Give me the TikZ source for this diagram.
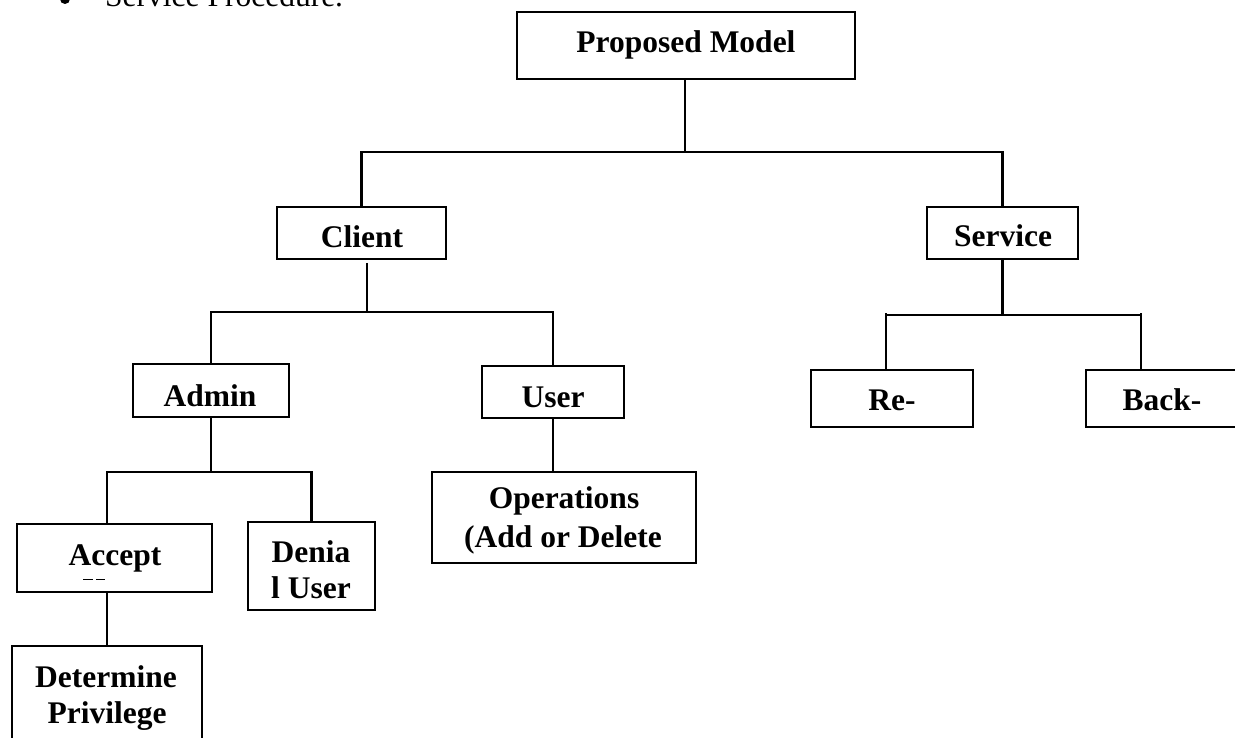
\documentclass[tikz,border=0pt]{standalone}
\usepackage{fontspec}
\setmainfont{Liberation Serif}
\begin{document}
\begin{tikzpicture}[x=1pt,y=-1pt,
  box/.style={draw, line width=2.6pt, inner sep=0pt},
  lbl/.style={anchor=base, font=\bfseries\fontsize{31.5}{36}\selectfont, inner sep=0pt},
  conn/.style={line width=2.6pt}]
\useasboundingbox (0,0) rectangle (1235,738);
\clip (0,0) rectangle (1235,738);

% heading text (clipped at the top)
\node[circle, fill, minimum size=10pt, inner sep=0pt] (bullet) at (65,-1) {};
\node[anchor=base west, font=\fontsize{31.5}{36}\selectfont, inner sep=0pt] (sp) at (105,7) {Service Procedure.};

% boxes
\node[box, minimum width=338pt, minimum height=67pt] (pm) at (686,45.5) {};
\node[box, minimum width=169pt, minimum height=52pt] (client) at (361.5,233) {};
\node[box, minimum width=151pt, minimum height=52pt] (service) at (1002.5,233) {};
\node[box, minimum width=156pt, minimum height=53pt] (admin) at (211,390.5) {};
\node[box, minimum width=142pt, minimum height=52pt] (user) at (553,392) {};
\node[box, minimum width=195pt, minimum height=68pt] (accept) at (114.5,558) {};
\node[box, minimum width=127pt, minimum height=88pt] (denial) at (311.5,566) {};
\node[box, minimum width=190pt, minimum height=114pt] (determine) at (107,703) {};
\node[box, minimum width=264pt, minimum height=91pt] (ops) at (564,517.5) {};
\node[box, minimum width=162pt, minimum height=57pt] (re) at (892,398.5) {};
\node[box, minimum width=174pt, minimum height=57pt] (back) at (1173,398.5) {};

% labels
\node[lbl] (pmT) at (686,53) {Proposed Model};
\node[lbl] (clientT) at (362,248) {Client};
\node[lbl] (serviceT) at (1003,247) {Service};
\node[lbl] (adminT) at (210,406) {Admin};
\node[lbl] (userT) at (553,407) {User};
\node[lbl] (acceptT) at (115,565) {Accept};
\node[lbl] (denialT1) at (311,562) {Denia};
\node[lbl] (denialT2) at (311,598) {l User};
\node[lbl] (detT1) at (106,687) {Determine};
\node[lbl] (detT2) at (107,723) {Privilege};
\node[lbl] (opsT1) at (564,508) {Operations};
\node[lbl] (opsT2) at (563,547) {(Add or Delete};
\node[lbl] (reT) at (892,410) {Re-};
\node[lbl] (backT) at (1162,410) {Back-};

% clipped remnants of a second line under "Accept"
\draw[line width=0.9pt] (83,579) -- (93,579) (96,579) -- (105,579);

% junction coordinates
\coordinate (j1) at (685,152);
\coordinate (j2) at (367,312);
\coordinate (c1) at (367,263);
\coordinate (j3) at (211,472);
\coordinate (a1) at (107,472);
\coordinate (r1) at (886,315);
\coordinate (b1) at (1141,315);

% connectors
\draw[conn] (pm.south -| j1) -- (j1);
\draw[conn] (client.north) |- (j1) -| (service.north);
\draw[conn] (c1) -- ([yshift=-1pt]j2);
\draw[conn] (admin.north) |- (j2) -| (user.north);
\draw[conn] (admin.south) -- (j3);
\draw[conn] (a1 |- accept.north) |- (j3) -| (denial.north);
\draw[conn] (accept.south -| determine.north) -- (determine.north);
\draw[conn] (user.south) -- (user.south |- ops.north);
\draw[conn] (service.south) -- (service.south |- r1);
\draw[conn] (r1) -- (b1);
\draw[conn] ([yshift=2pt]r1) -- (r1 |- re.north);
\draw[conn] ([yshift=2pt]b1) -- (b1 |- back.north);
\end{tikzpicture}
\end{document}
